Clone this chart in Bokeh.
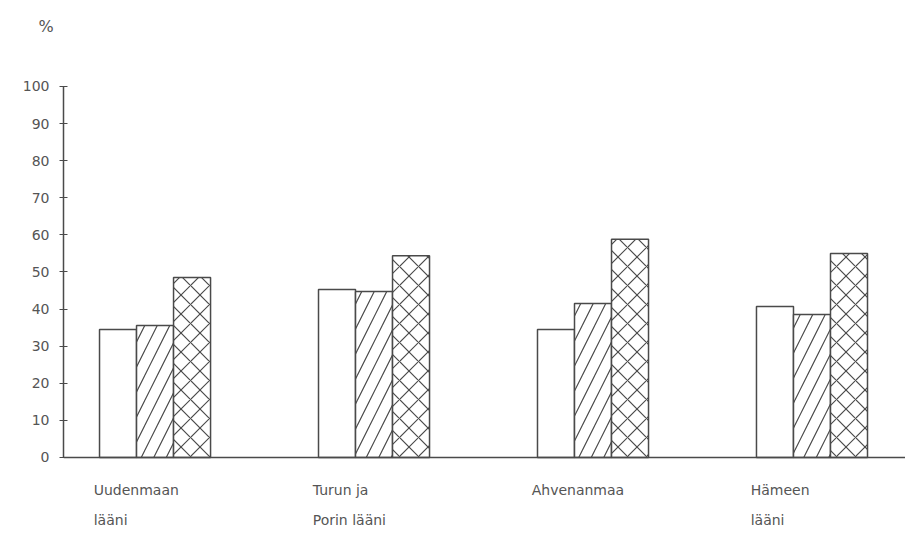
from bokeh.plotting import figure
from bokeh.models import ColumnDataSource, FixedTicker, Range1d, Span, Title
from bokeh.core.properties import value
from bokeh.transform import dodge
from bokeh.embed import file_html
from bokeh.resources import INLINE

# ---- data ----
regions_line1 = ["Uudenmaan", "Turun ja", "Ahvenanmaa", "Hämeen"]
regions_line2 = ["lääni", "Porin lääni", "", "lääni"]
series_a = [34.5, 45.3, 34.5, 40.7]   # open bars
series_b = [35.6, 44.7, 41.5, 38.5]   # diagonal hatch
series_c = [48.5, 54.4, 58.8, 55.0]   # cross hatch
y_ticks = [0, 10, 20, 30, 40, 50, 60, 70, 80, 90, 100]
unit_label = "%"

ink = "#4a4a4a"
txt = "#555555"
font = "DejaVu Sans"

src = ColumnDataSource(dict(
    g=list(range(len(regions_line1))),
    a=series_a, b=series_b, c=series_c,
    l1=regions_line1, l2=regions_line2,
))

p = figure(width=905, height=530, output_backend="svg", toolbar_location=None,
           x_range=Range1d(-0.418, 3.427), y_range=Range1d(-19.7, 112.4),
           min_border_left=63, min_border_top=40, min_border_bottom=0,
           min_border_right=0)
p.outline_line_color = None
p.xgrid.visible = False
p.ygrid.visible = False
p.xaxis.visible = False
p.background_fill_color = "white"
p.border_fill_color = "white"

p.add_layout(Title(text=unit_label, align="left", offset=-25,
                   text_font=font, text_font_size="16px", text_color=txt,
                   text_font_style="normal"), "above")

bw = 0.169
common = dict(width=bw, bottom=0, source=src, fill_color="white",
              line_color=ink, line_width=1.5)
p.vbar(x=dodge("g", -bw, range=p.x_range), top="a", **common)
p.vbar(x=dodge("g", 0, range=p.x_range), top="b", hatch_pattern="/",
       hatch_color=ink, hatch_weight=1.2, hatch_scale=25, **common)
p.vbar(x=dodge("g", bw, range=p.x_range), top="c", hatch_pattern="x",
       hatch_color=ink, hatch_weight=1.2, hatch_scale=19, **common)

# baseline (x axis line)
p.add_layout(Span(location=0, dimension="width", line_color=ink, line_width=1.5))

# y axis
ya = p.yaxis[0]
ya.ticker = FixedTicker(ticks=y_ticks)
ya.bounds = (0, 100)
ya.axis_line_color = ink
ya.axis_line_width = 1.5
ya.major_tick_line_color = ink
ya.major_tick_in = 4
ya.major_tick_out = 4
ya.minor_tick_line_color = None
ya.major_label_standoff = 10
ya.major_label_text_font = font
ya.major_label_text_font_size = "14px"
ya.major_label_text_color = txt

lab_kw = dict(source=src, text_font=value(font), text_font_size="14px",
              text_color=txt, text_align="left", text_baseline="middle")
p.text(x=dodge("g", -0.28, range=p.x_range), y=-8.9, text="l1", **lab_kw)
p.text(x=dodge("g", -0.28, range=p.x_range), y=-17.0, text="l2", **lab_kw)

open("out.html", "w").write(file_html(p, INLINE))
